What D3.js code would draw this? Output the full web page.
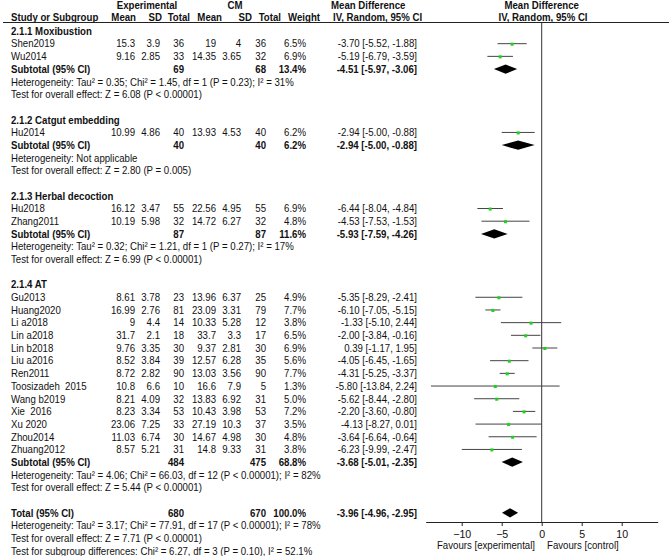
<!DOCTYPE html>
<html><head><meta charset="utf-8">
<script src="https://cdn.jsdelivr.net/npm/d3@7"></script>
<style>body{margin:0;background:#fff}svg{display:block}text{font-family:"Liberation Sans",Arial,sans-serif;font-size:10.6px;fill:#111;white-space:pre}</style>
</head><body><svg id="c" width="669" height="556"></svg>
<script>
// ---- data ----
const groupNames = ["2.1.1 Moxibustion","2.1.2 Catgut embedding","2.1.3 Herbal decoction","2.1.4 AT"];
const studyNames = ["Shen2019","Wu2014","Hu2014","Hu2018","Zhang2011","Gu2013","Huang2020","Li a2018","Lin a2018","Lin b2018","Liu a2016","Ren2011","Toosizadeh  2015","Wang b2019","Xie  2016","Xu 2020","Zhou2014","Zhuang2012"];
const studyGroup = [0,0,1,2,2,3,3,3,3,3,3,3,3,3,3,3,3,3];
const meanE = [15.3,9.16,10.99,16.12,10.19,8.61,16.99,9,31.7,9.76,8.52,8.72,10.8,8.21,8.23,23.06,11.03,8.57];
const sdE   = [3.9,2.85,4.86,3.47,5.98,3.78,2.76,4.4,2.1,3.35,3.84,2.82,6.6,4.09,3.34,7.25,6.74,5.21];
const nE    = [36,33,40,55,32,23,81,14,18,30,39,90,10,32,53,33,30,31];
const meanC = [19,14.35,13.93,22.56,14.72,13.96,23.09,10.33,33.7,9.37,12.57,13.03,16.6,13.83,10.43,27.19,14.67,14.8];
const sdC   = [4,3.65,4.53,4.95,6.27,6.37,3.31,5.28,3.3,2.81,6.28,3.56,7.9,6.92,3.98,10.3,4.98,9.33];
const nC    = [36,32,40,55,32,25,79,12,17,30,35,90,5,31,53,37,30,31];
const weight = ["6.5%","6.9%","6.2%","6.9%","4.8%","4.9%","7.7%","3.8%","6.5%","6.9%","5.6%","7.7%","1.3%","5.0%","7.2%","3.5%","4.8%","3.8%"];
const md = [-3.70,-5.19,-2.94,-6.44,-4.53,-5.35,-6.10,-1.33,-2.00,0.39,-4.05,-4.31,-5.80,-5.62,-2.20,-4.13,-3.64,-6.23];
const lo = [-5.52,-6.79,-5.00,-8.04,-7.53,-8.29,-7.05,-5.10,-3.84,-1.17,-6.45,-5.25,-13.84,-8.44,-3.60,-8.27,-6.64,-9.99];
const hi = [-1.88,-3.59,-0.88,-4.84,-1.53,-2.41,-5.15,2.44,-0.16,1.95,-1.65,-3.37,2.24,-2.80,-0.80,0.01,-0.64,-2.47];
const subNE = [69,40,87,484], subNC = [68,40,87,475];
const subW = ["13.4%","6.2%","11.6%","68.8%"];
const subMD = [-4.51,-2.94,-5.93,-3.68], subLo = [-5.97,-5.00,-7.59,-5.01], subHi = [-3.06,-0.88,-4.26,-2.35];
const hetText = ["Heterogeneity: Tau\u00b2 = 0.35; Chi\u00b2 = 1.45, df = 1 (P = 0.23); I\u00b2 = 31%","Heterogeneity: Not applicable","Heterogeneity: Tau\u00b2 = 0.32; Chi\u00b2 = 1.21, df = 1 (P = 0.27); I\u00b2 = 17%","Heterogeneity: Tau\u00b2 = 4.06; Chi\u00b2 = 66.03, df = 12 (P < 0.00001); I\u00b2 = 82%"];
const zText = ["Test for overall effect: Z = 6.08 (P < 0.00001)","Test for overall effect: Z = 2.80 (P = 0.005)","Test for overall effect: Z = 6.99 (P < 0.00001)","Test for overall effect: Z = 5.44 (P < 0.00001)"];
const total = {nE:680,nC:670,w:"100.0%",md:-3.96,lo:-4.96,hi:-2.95};
const totalNotes = ["Heterogeneity: Tau\u00b2 = 3.17; Chi\u00b2 = 77.91, df = 17 (P < 0.00001); I\u00b2 = 78%","Test for overall effect: Z = 7.71 (P < 0.00001)","Test for subgroup differences: Chi\u00b2 = 6.27, df = 3 (P = 0.10), I\u00b2 = 52.1%"];
const ticks = [-10,-5,0,5,10];

// ---- layout ----
const svg = d3.select("#c");
const SX = 0.91; // horizontal compression of the lettering
const rowY = i => 31 + i*12.68;
const x = d3.scaleLinear().domain([-14.5,14.5]).range([425.7,657.7]);
const fmt = v => v.toFixed(2);
const ciStr = (m,l,h) => `${fmt(m)} [${fmt(l)}, ${fmt(h)}]`;
const col = {mE:135,sE:160,nE:184,mC:216,sC:241,nC:266,w:306,ci:417};

function txt(xp,y,s,opt={}){
  const t = svg.append("text").attr("transform",`translate(${xp},${y}) scale(${SX},1)`).text(s);
  if(opt.anchor) t.attr("text-anchor",opt.anchor);
  if(opt.bold) t.attr("font-weight","bold");
  return t;
}
// headers
txt(147,8.5,"Experimental",{anchor:"middle",bold:true});
txt(235,8.5,"CM",{anchor:"middle",bold:true});
txt(331,8.5,"Mean Difference",{bold:true});
txt(541.7,8.5,"Mean Difference",{anchor:"middle",bold:true});
txt(11,20.5,"Study or Subgroup",{bold:true});
[["Mean",136],["SD",162],["Total",190],["Mean",222],["SD",252],["Total",281],["Weight",320]].forEach(d=>txt(d[1],20.5,d[0],{anchor:"end",bold:true}));
txt(333,20.5,"IV, Random, 95% CI",{bold:true});
txt(543,20.5,"IV, Random, 95% CI",{anchor:"middle",bold:true});
svg.append("line").attr("x1",3).attr("x2",669).attr("y1",22.5).attr("y2",22.5).attr("stroke","#222").attr("stroke-width",1);

// build rows
let r = 0;
const markRows = [];
const base = 3.8;
groupNames.forEach((g,gi)=>{
  txt(11,rowY(r)+base,g,{bold:true}); r++;
  studyNames.forEach((s,si)=>{
    if(studyGroup[si]!==gi) return;
    const y = rowY(r)+base;
    txt(11,y,s);
    txt(col.mE,y,String(meanE[si]),{anchor:"end"});
    txt(col.sE,y,String(sdE[si]),{anchor:"end"});
    txt(col.nE,y,String(nE[si]),{anchor:"end"});
    txt(col.mC,y,String(meanC[si]),{anchor:"end"});
    txt(col.sC,y,String(sdC[si]),{anchor:"end"});
    txt(col.nC,y,String(nC[si]),{anchor:"end"});
    txt(col.w,y,weight[si],{anchor:"end"});
    txt(col.ci,y,ciStr(md[si],lo[si],hi[si]),{anchor:"end"});
    markRows.push({y:rowY(r),m:md[si],l:lo[si],h:hi[si]});
    r++;
  });
  const y = rowY(r)+base;
  txt(11,y,"Subtotal (95% CI)",{bold:true});
  txt(col.nE,y,String(subNE[gi]),{anchor:"end",bold:true});
  txt(col.nC,y,String(subNC[gi]),{anchor:"end",bold:true});
  txt(col.w,y,subW[gi],{anchor:"end",bold:true});
  txt(col.ci,y,ciStr(subMD[gi],subLo[gi],subHi[gi]),{anchor:"end",bold:true});
  markRows.push({y:rowY(r),m:subMD[gi],l:subLo[gi],h:subHi[gi],diamond:true});
  r++;
  txt(11,rowY(r)+base,hetText[gi]); r++;
  txt(11,rowY(r)+base,zText[gi]); r++;
  r++;
});
{
  const y = rowY(r)+base;
  txt(11,y,"Total (95% CI)",{bold:true});
  txt(col.nE,y,String(total.nE),{anchor:"end",bold:true});
  txt(col.nC,y,String(total.nC),{anchor:"end",bold:true});
  txt(col.w,y,total.w,{anchor:"end",bold:true});
  txt(col.ci,y,ciStr(total.md,total.lo,total.hi),{anchor:"end",bold:true});
  markRows.push({y:rowY(r),m:total.md,l:total.lo,h:total.hi,diamond:true});
  r++;
  totalNotes.forEach(t=>{txt(11,rowY(r)+base,t); r++;});
}

// plot
const axisY = 522;
svg.append("line").attr("x1",x(0)).attr("x2",x(0)).attr("y1",22.5).attr("y2",axisY).attr("stroke","#333");
markRows.forEach(d=>{
  if(d.diamond){
    svg.append("path").attr("d",`M${x(d.l)},${d.y}L${x(d.m)},${d.y-4.6}L${x(d.h)},${d.y}L${x(d.m)},${d.y+4.6}Z`).attr("fill","#000");
  } else {
    svg.append("line").attr("x1",x(d.l)).attr("x2",x(d.h)).attr("y1",d.y).attr("y2",d.y).attr("stroke","#444").attr("stroke-width",1);
    svg.append("rect").attr("x",x(d.m)-1.5).attr("y",d.y-1).attr("width",3).attr("height",3).attr("fill","#19d419");
  }
});
const ax = svg.append("g").attr("transform",`translate(0,${axisY})`)
  .call(d3.axisBottom(x).tickValues(ticks).tickSize(4).tickSizeOuter(0).tickFormat(d3.format("d")));
ax.select(".domain").attr("stroke","#222");
ax.selectAll(".tick line").attr("stroke","#222");
ax.selectAll(".tick text").attr("font-size","10.6px").attr("font-family","Liberation Sans, Arial, sans-serif").attr("fill","#111").attr("dy","0.85em");
txt(535,549,"Favours [experimental]",{anchor:"end"});
txt(547,549,"Favours [control]");
</script></body></html>
